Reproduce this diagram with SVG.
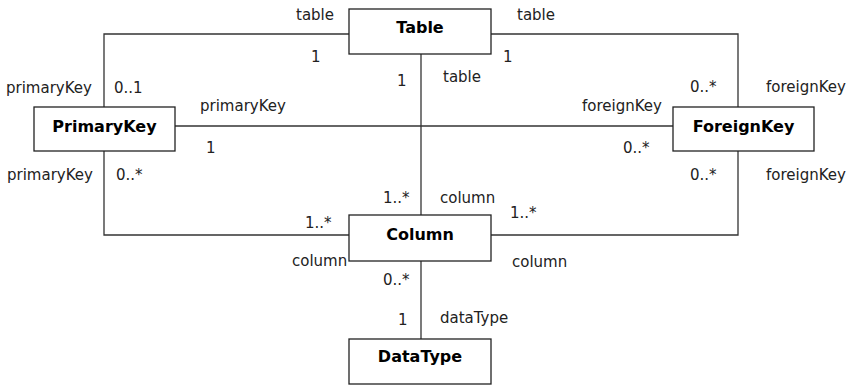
<svg xmlns="http://www.w3.org/2000/svg" width="856" height="385" viewBox="0 0 856 385">
<style>
.box{fill:#fff;stroke:#222;stroke-width:1.3}
.ln{fill:none;stroke:#333;stroke-width:1.3}
.t{font-family:"DejaVu Sans",Verdana,sans-serif;font-size:15px;fill:#222}
.b{font-family:"DejaVu Sans",Verdana,sans-serif;font-size:16px;font-weight:bold;fill:#000;text-anchor:middle}
</style>
<rect width="856" height="385" fill="#fff"/>
<g id="connectors">
<polyline class="ln" points="349,34 104,34 104,107"/>
<polyline class="ln" points="491,34 738,34 738,107"/>
<line class="ln" x1="175" y1="126" x2="673" y2="126"/>
<line class="ln" x1="421" y1="54" x2="421" y2="215"/>
<polyline class="ln" points="104,151 104,235 349,235"/>
<polyline class="ln" points="491,235 738,235 738,151"/>
<line class="ln" x1="421" y1="261" x2="421" y2="339"/>
</g>
<g id="labels">
<text class="t" x="296" y="20">table</text>
<text class="t" x="311" y="62">1</text>
<text class="t" x="397" y="86">1</text>
<text class="t" x="443" y="82">table</text>
<text class="t" x="517" y="20">table</text>
<text class="t" x="503" y="62">1</text>
<text class="t" x="6" y="93">primaryKey</text>
<text class="t" x="114" y="93">0..1</text>
<text class="t" x="200" y="111">primaryKey</text>
<text class="t" x="206" y="153">1</text>
<text class="t" x="7" y="180">primaryKey</text>
<text class="t" x="116" y="180">0..*</text>
<text class="t" x="383" y="203">1..*</text>
<text class="t" x="440" y="203">column</text>
<text class="t" x="305" y="228">1..*</text>
<text class="t" x="292" y="266">column</text>
<text class="t" x="383" y="285">0..*</text>
<text class="t" x="398" y="325">1</text>
<text class="t" x="440" y="323">dataType</text>
<text class="t" x="510" y="218">1..*</text>
<text class="t" x="512" y="267">column</text>
<text class="t" x="690" y="92">0..*</text>
<text class="t" x="766" y="92">foreignKey</text>
<text class="t" x="582" y="111">foreignKey</text>
<text class="t" x="623" y="153">0..*</text>
<text class="t" x="690" y="180">0..*</text>
<text class="t" x="766" y="180">foreignKey</text>
</g>
<g id="Table"><rect class="box" x="349" y="9" width="142" height="45"/><text class="b" x="420" y="33">Table</text></g>
<g id="PrimaryKey"><rect class="box" x="34" y="107" width="141" height="44"/><text class="b" x="104.5" y="132">PrimaryKey</text></g>
<g id="ForeignKey"><rect class="box" x="673" y="107" width="141" height="44"/><text class="b" x="743.5" y="132">ForeignKey</text></g>
<g id="Column"><rect class="box" x="349" y="215" width="142" height="46"/><text class="b" x="420" y="240">Column</text></g>
<g id="DataType"><rect class="box" x="349" y="339" width="142" height="45"/><text class="b" x="420" y="362">DataType</text></g>
</svg>
